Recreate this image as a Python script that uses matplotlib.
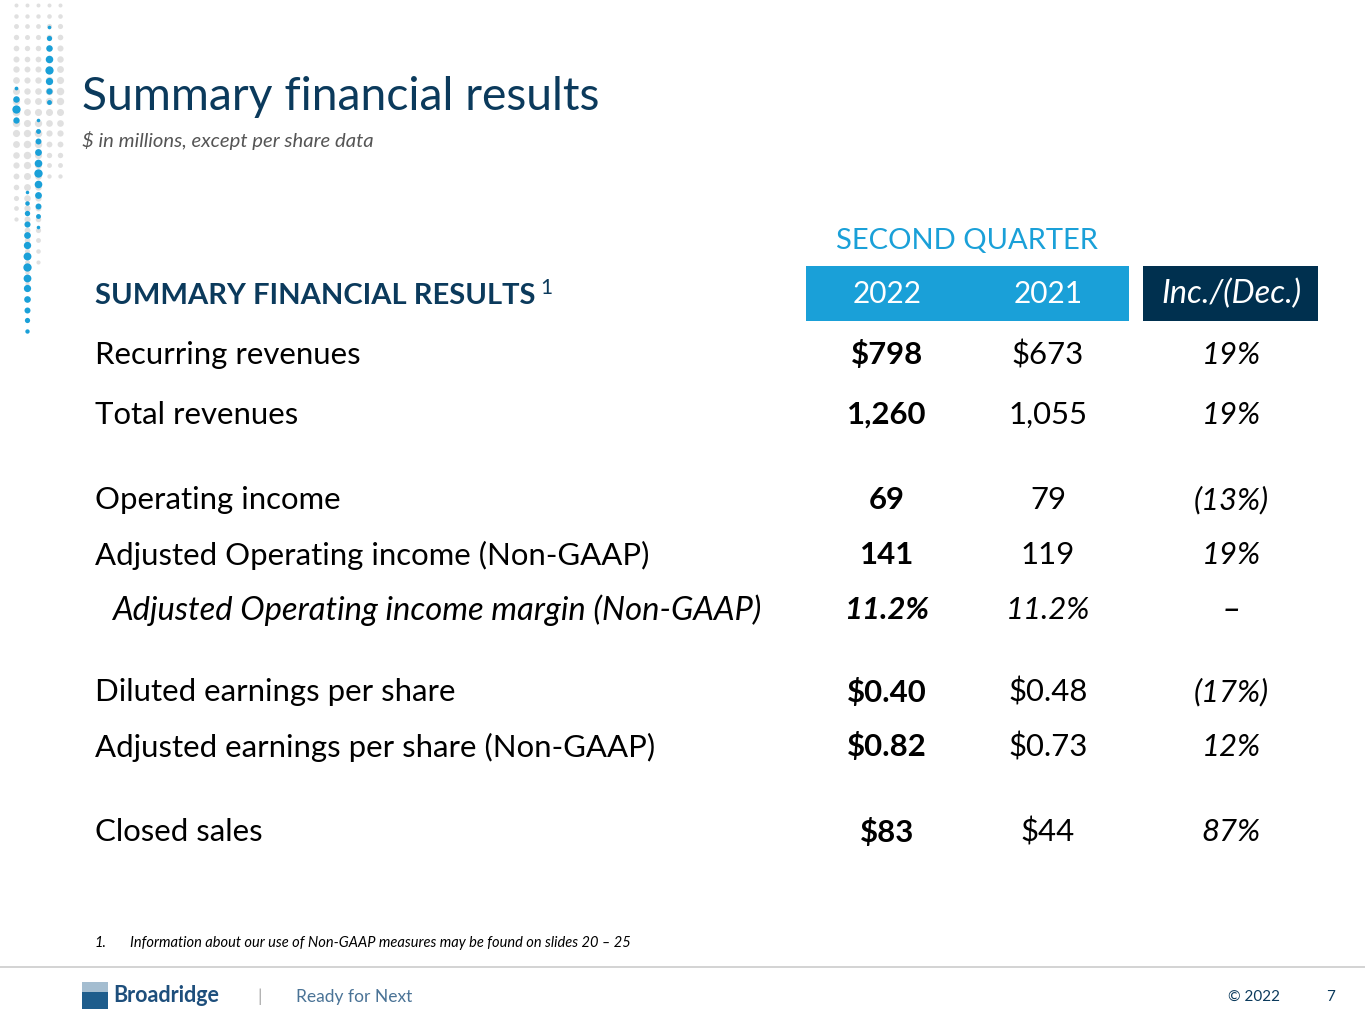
import matplotlib
matplotlib.use("Agg")
import matplotlib.pyplot as plt
from matplotlib.patches import Rectangle

plt.rcParams['font.family'] = ['Lato', 'DejaVu Sans']

# ---- data -----------------------------------------------------------
row_labels = ["Recurring revenues", "Total revenues", "Operating income",
              "Adjusted Operating income (Non-GAAP)",
              "Adjusted Operating income margin (Non-GAAP)",
              "Diluted earnings per share",
              "Adjusted earnings per share (Non-GAAP)", "Closed sales"]
vals_2022 = ["$798", "1,260", "69", "141", "11.2%", "$0.40", "$0.82", "$83"]
vals_2021 = ["$673", "1,055", "79", "119", "11.2%", "$0.48", "$0.73", "$44"]
inc_dec = ["19%", "19%", "(13%)", "19%", "\u2013", "(17%)", "12%", "87%"]
italic_rows = [4]
row_y = [355, 415, 500, 555, 610, 692, 747, 832]

NAVY = "#0b3a5c"
BLUE = "#1aa0d8"
DARK = "#00304f"
FS = 22.4

fig = plt.figure(figsize=(13.65, 10.24), dpi=100)
ax = fig.add_axes([0, 0, 1, 1])
ax.set_xlim(0, 1365)
ax.set_ylim(1024, 0)
ax.axis("off")

# decorative dot column pattern (x, first row, last row)
dot_cols = [16, 27, 38, 49, 60]
blue_runs = {16: (88, 130), 27: (192, 340), 38: (120, 227), 49: (27, 110)}
gray_runs = {16: (5, 225), 27: (5, 290), 38: (5, 265), 49: (5, 182), 60: (5, 182)}
step = 10.7
for cx in dot_cols:
    g0, g1 = gray_runs[cx]
    y = g0
    while y <= g1:
        s = 8 + 22 * (1 - abs((y - (g0 + g1) / 2) / ((g1 - g0) / 2 + 1)))
        ax.scatter(cx, y, s=s, color="#e0e0e0", lw=0, zorder=1)
        y += step
    if cx in blue_runs:
        b0, b1 = blue_runs[cx]
        y = b0
        while y <= b1:
            s = 6 + 30 * (1 - abs((y - (b0 + b1) / 2) / ((b1 - b0) / 2 + 1)))
            ax.scatter(cx, y, s=s, color=BLUE, lw=0, zorder=2)
            y += step

# title
ax.text(82, 97, "Summary financial results", fontsize=33.3, color=NAVY,
        va="center", ha="left")
ax.text(82, 141, "$ in millions, except per share data", fontsize=14.6,
        style="italic", color="#555555", va="center", ha="left")

# header
ax.text(967, 241, "SECOND QUARTER", fontsize=21, color=BLUE, va="center", ha="center")
ax.add_patch(Rectangle((806, 266), 323, 55, color=BLUE, lw=0))
ax.add_patch(Rectangle((1143, 266), 175, 55, color=DARK, lw=0))
ax.text(887, 294, "2022", fontsize=21.5, color="white", va="center", ha="center")
ax.text(1048, 294, "2021", fontsize=21.5, color="white", va="center", ha="center")
ax.text(1231, 294, "Inc./(Dec.)", fontsize=23.5, color="white", style="italic",
        va="center", ha="center")
ax.text(95, 296, "SUMMARY FINANCIAL RESULTS", fontsize=21, color=NAVY,
        weight="bold", va="center", ha="left")
ax.text(540, 288, "1", fontsize=15, color=NAVY, va="center", ha="left")

# rows
for i, (lab, a, b, c, y) in enumerate(zip(row_labels, vals_2022, vals_2021, inc_dec, row_y)):
    st = "italic" if i in italic_rows else "normal"
    x0 = 112 if i in italic_rows else 95
    lfs = 23.6 if i in italic_rows else FS
    ax.text(x0, y, lab, fontsize=lfs, style=st, color="black", va="center", ha="left")
    ax.text(887, y, a, fontsize=FS, style=st, weight="bold", color="black",
            va="center", ha="center")
    ax.text(1048, y, b, fontsize=FS, style=st, color="black", va="center", ha="center")
    ax.text(1231, y, c, fontsize=FS + 2 if c == "\u2013" else FS, style="italic",
            color="black", va="center", ha="center")

# footnote
ax.text(95, 943, "1.", fontsize=10.5, style="italic", color="black", va="center")
ax.text(130, 943, "Information about our use of Non-GAAP measures may be found on slides 20 \u2013 25",
        fontsize=10.5, style="italic", color="black", va="center")

# footer
ax.plot([0, 1365], [967, 967], color="#cccccc", lw=1.2)
ax.add_patch(Rectangle((82, 982), 26, 27, color="#1e5d8c", lw=0))
ax.add_patch(Rectangle((82, 982), 26, 10, color="white", lw=0, alpha=0.6))
ax.text(113, 996, "Broadridge", fontsize=15.5, weight="bold", color="#1e4f7c",
        va="center", ha="left")
ax.text(260, 997, "|", fontsize=13, color="#aaaaaa", va="center", ha="center")
ax.text(296, 997, "Ready for Next", fontsize=12.5, color="#4a7396", va="center", ha="left")
ax.text(1254, 997, "\u00a9 2022", fontsize=11, color=NAVY, va="center", ha="center")
ax.text(1331, 997, "7", fontsize=11, color=NAVY, va="center", ha="center")

fig.savefig("out.png", dpi=100, facecolor="white")
